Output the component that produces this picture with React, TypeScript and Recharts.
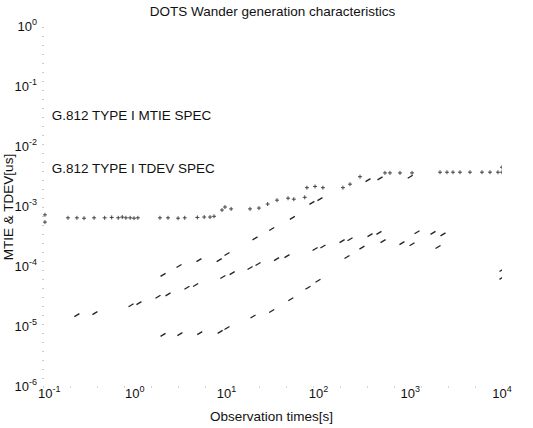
import React from 'react';
import { ScatterChart, Scatter, XAxis, YAxis, ReferenceDot } from 'recharts';

const topTimes = [0.105, 0.105, 0.187, 0.234, 0.28, 0.36, 0.47, 0.56, 0.66, 0.73, 0.8, 0.89, 0.98, 1.08, 1.88, 2.3, 2.96, 3.5, 4.8, 5.7, 6.6, 7.3, 8.9, 9.6, 11.2, 18, 22.5, 28, 35.4, 46.7, 54, 71, 75, 92, 112, 185, 221, 284, 531, 602, 774, 1047, 2113, 2515, 2924, 3484, 4477, 6052, 7396, 9036, 10000, 10000];
const topValues = [7.4e-4, 5.6e-4, 6.6e-4, 6.6e-4, 6.5e-4, 6.6e-4, 6.6e-4, 6.7e-4, 6.6e-4, 6.8e-4, 6.6e-4, 6.6e-4, 6.5e-4, 6.6e-4, 6.6e-4, 6.6e-4, 6.5e-4, 6.6e-4, 6.7e-4, 6.8e-4, 6.8e-4, 7.0e-4, 8.9e-4, 1.0e-3, 9.3e-4, 9.3e-4, 9.6e-4, 1.12e-3, 1.3e-3, 1.4e-3, 1.35e-3, 1.45e-3, 2.1e-3, 2.2e-3, 2.1e-3, 2.1e-3, 2.4e-3, 3.2e-3, 3.7e-3, 3.7e-3, 3.7e-3, 3.7e-3, 3.8e-3, 3.8e-3, 3.8e-3, 3.8e-3, 3.8e-3, 3.8e-3, 3.8e-3, 3.8e-3, 4.6e-3, 3.8e-3];

const upperTimes = [2.03, 3.03, 5.0, 8.3, 10.1, 20.4, 31, 52, 85, 104, 347, 469, 1000];
const upperValues = [7.4e-5, 1.04e-4, 1.3e-4, 1.3e-4, 1.65e-4, 3.0e-4, 4.3e-4, 6.6e-4, 1.17e-3, 1.35e-3, 2.8e-3, 3.0e-3, 3.2e-3];

const middleTimes = [0.234, 0.368, 0.91, 1.11, 1.79, 2.3, 3.7, 4.6, 9.1, 11.5, 18, 22, 35, 45.5, 92, 112, 181, 221, 365, 457, 1186, 1772, 2275, 10000];
const middleValues = [1.58e-5, 1.7e-5, 2.3e-5, 2.5e-5, 3.2e-5, 3.5e-5, 4.5e-5, 5.0e-5, 6.8e-5, 7.9e-5, 9.6e-5, 1.12e-4, 1.35e-4, 1.52e-4, 2.0e-4, 2.2e-4, 2.7e-4, 2.9e-4, 3.4e-4, 3.7e-4, 3.8e-4, 3.7e-4, 3.5e-4, 8.9e-5];

const lowerTimes = [2.03, 3.1, 5.1, 8.5, 10.1, 19.4, 31, 50, 77, 99, 205, 298, 506, 813, 1047, 2010, 10000];
const lowerValues = [7.4e-6, 7.6e-6, 7.9e-6, 8.3e-6, 9.6e-6, 1.5e-5, 1.85e-5, 2.9e-5, 4.5e-5, 5.9e-5, 1.47e-4, 2.1e-4, 2.7e-4, 2.5e-4, 2.4e-4, 2.15e-4, 6.6e-5];

const xTicks = [0.1, 1, 10, 100, 1000, 10000];
const yTicks = [1e-6, 1e-5, 1e-4, 1e-3, 1e-2, 1e-1, 1];

const specLabels = ['G.812 TYPE I MTIE SPEC', 'G.812 TYPE I TDEV SPEC'];
const specLabelTimes = [0.11, 0.11];
const specLabelValues = [0.034, 0.00447];

const zip = (xs: number[], ys: number[]) => xs.map((x, i) => ({ x, y: ys[i] }));

const FONT = '"Liberation Sans", Arial, Helvetica, sans-serif';

const exponent = (v: number) => String(Math.round(Math.log10(v)));

const XTick = (props: any) => {
  const { x, payload, index } = props;
  // first label nudged right so it clears the 10^-6 label
  const first = index === 0;
  return (
    <text x={first ? x - 5 : x} y={398} textAnchor={first ? 'start' : 'middle'} fontFamily={FONT} fontSize={13} fill="#111">
      <tspan>10</tspan>
      <tspan dy={-6} fontSize={9}>{exponent(payload.value)}</tspan>
    </text>
  );
};

const YTick = (props: any) => {
  const { y, payload } = props;
  return (
    <text x={37} y={y + 4} textAnchor="end" fontFamily={FONT} fontSize={13} fill="#111">
      <tspan>10</tspan>
      <tspan dy={-6} fontSize={9}>{exponent(payload.value)}</tspan>
    </text>
  );
};

const plusMark = (props: any) => {
  const { cx, cy } = props;
  return <path d={`M${cx - 2},${cy}H${cx + 2}M${cx},${cy - 2}V${cy + 2}`} stroke="#333" strokeWidth={0.9} fill="none" />;
};

const dashMark = (props: any) => {
  const { cx, cy } = props;
  return <path d={`M${cx - 2.5},${cy + 1.5}L${cx + 2.5},${cy - 1.5}`} stroke="#222" strokeWidth={1.3} fill="none" />;
};

export default function App() {
  return (
    <div style={{ position: 'absolute', left: 0, top: 0, width: 533, height: 428, background: '#fff', fontFamily: FONT }}>
      <ScatterChart width={533} height={428} margin={{ top: 27, right: 31, bottom: 0, left: 0 }}>
        <XAxis
          dataKey="x"
          type="number"
          scale="log"
          domain={[0.1, 10000]}
          allowDataOverflow
          ticks={xTicks}
          height={41}
          tickLine={false}
          axisLine={{ stroke: '#aaa', strokeDasharray: '1 26' }}
          tick={<XTick />}
          interval={0}
        />
        <YAxis
          dataKey="y"
          type="number"
          scale="log"
          domain={[1e-6, 1]}
          allowDataOverflow
          ticks={yTicks}
          width={43}
          tickLine={false}
          axisLine={{ stroke: '#999', strokeDasharray: '1 8' }}
          tick={<YTick />}
          interval={0}
        />
        <Scatter data={zip(topTimes, topValues)} shape={plusMark} isAnimationActive={false} />
        <Scatter data={zip(upperTimes, upperValues)} shape={dashMark} isAnimationActive={false} />
        <Scatter data={zip(middleTimes, middleValues)} shape={dashMark} isAnimationActive={false} />
        <Scatter data={zip(lowerTimes, lowerValues)} shape={dashMark} isAnimationActive={false} />
        {specLabels.map((text, i) => (
          <ReferenceDot
            key={text}
            x={specLabelTimes[i]}
            y={specLabelValues[i]}
            r={0}
            stroke="none"
            fill="none"
            label={{ value: text, position: 'right', offset: 5, fontSize: 13.5, fill: '#111', fontFamily: FONT }}
          />
        ))}
      </ScatterChart>
      <div style={{ position: 'absolute', left: 0, width: 545, top: 4, textAlign: 'center', fontSize: 13.5, color: '#111' }}>
        DOTS Wander generation characteristics
      </div>
      <div style={{ position: 'absolute', left: 0, width: 543, top: 409, textAlign: 'center', fontSize: 13.5, color: '#111' }}>
        Observation times[s]
      </div>
      <div
        style={{
          position: 'absolute',
          left: 8,
          top: 207,
          transform: 'translate(-50%, -50%) rotate(-90deg)',
          whiteSpace: 'nowrap',
          fontSize: 13.5,
          color: '#111',
        }}
      >
        MTIE &amp; TDEV[us]
      </div>
    </div>
  );
}
